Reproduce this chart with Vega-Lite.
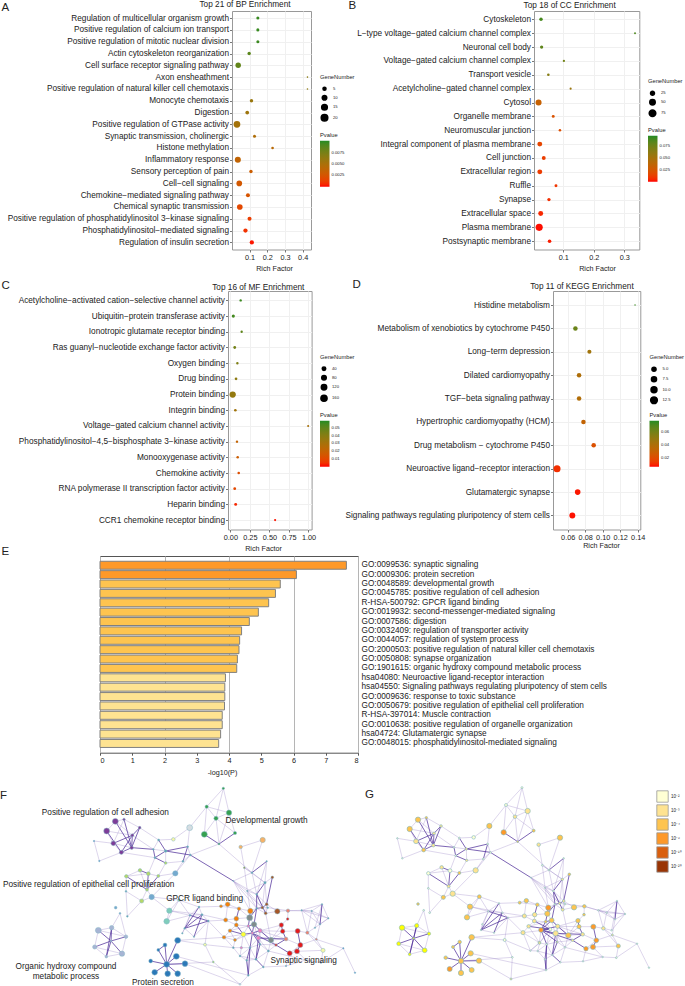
{
"$schema":"https://vega.github.io/schema/vega-lite/v6.json",
"padding":{"left":0,"top":-2,"right":0,"bottom":0},
"background":"white",
"bounds":"full","align":"none","spacing":-10,
"data":{"values":[{"a":1}]},
"resolve":{"scale":{"color":"independent","size":"independent"},"legend":{"color":"independent","size":"independent"}},
"config":{"font":"Liberation Sans","view":{"stroke":"#999","strokeWidth":1},
"axis":{"labelFontSize":8.25,"labelColor":"#222","tickColor":"#777","tickSize":2.5,"domain":false,"grid":true,"gridColor":"#f0f0f0","labelLimit":500,"titleFontWeight":"normal","titleColor":"#222","labelPadding":1},
"legend":{"titleFontSize":5.75,"titleFontWeight":"normal","titleColor":"#222","labelFontSize":4.2,"labelColor":"#222","symbolFillColor":"#000","symbolStrokeColor":"#000","symbolOpacity":1,"orient":"none","rowPadding":-2.5,"titlePadding":6.5},
"title":{"fontWeight":"normal","fontSize":8.25,"color":"#222"}},
"datasets":{
"nodes":[
{"id":"n1","fx":670,"fy":172,"fd":8,"cl":"growth","gx":531,"gy":170,"gd":7,"lv":"10⁻²"},
{"id":"n2","fx":620,"fy":227,"fd":11,"cl":"growth","gx":483,"gy":222,"gd":10,"lv":"10⁻²"},
{"id":"n3","fx":687,"fy":245,"fd":18,"cl":"growth","gx":548,"gy":240,"gd":18,"lv":"10⁻³"},
{"id":"n4","fx":648,"fy":262,"fd":14,"cl":"growth","gx":510,"gy":257,"gd":12,"lv":"10⁻³"},
{"id":"n5","fx":613,"fy":310,"fd":20,"cl":"growth","gx":476,"gy":304,"gd":18,"lv":"10⁻⁶"},
{"id":"n6","fx":705,"fy":306,"fd":11,"cl":"growth","gx":566,"gy":299,"gd":10,"lv":"10⁻⁴"},
{"id":"n7","fx":657,"fy":339,"fd":6,"cl":"growth","gx":518,"gy":332,"gd":6,"lv":"10⁻⁴"},
{"id":"n8","fx":569,"fy":290,"fd":20,"cl":"palegrey","gx":433,"gy":285,"gd":18,"lv":"10⁻⁴"},
{"id":"n9","fx":520,"fy":325,"fd":12,"cl":"paleyellow","gx":386,"gy":319,"gd":12,"lv":"10⁻²"},
{"id":"n10","fx":788,"fy":327,"fd":18,"cl":"apricot","gx":645,"gy":320,"gd":18,"lv":"10⁻⁴"},
{"id":"n11","fx":722,"fy":348,"fd":12,"cl":"apricot","gx":581,"gy":341,"gd":12,"lv":"10⁻³"},
{"id":"n12","fx":733,"fy":410,"fd":6,"cl":"olive","gx":592,"gy":403,"gd":6,"lv":"10⁻²"},
{"id":"n13","fx":800,"fy":391,"fd":5,"cl":"mesh","gx":656,"gy":382,"gd":5,"lv":"10⁻²"},
{"id":"n14","fx":756,"fy":425,"fd":6,"cl":"mesh","gx":612,"gy":417,"gd":6,"lv":"10⁻²"},
{"id":"n15","fx":817,"fy":439,"fd":9,"cl":"brown","gx":673,"gy":430,"gd":9,"lv":"10⁻⁴"},
{"id":"n16","fx":795,"fy":455,"fd":8,"cl":"mesh","gx":652,"gy":445,"gd":8,"lv":"10⁻³"},
{"id":"n17","fx":700,"fy":450,"fd":4,"cl":"mesh","gx":558,"gy":440,"gd":4,"lv":"10⁻²"},
{"id":"p1","fx":346,"fy":271,"fd":20,"cl":"adhesion","gx":219,"gy":266,"gd":18,"lv":"10⁻⁴"},
{"id":"p2","fx":372,"fy":265,"fd":8,"cl":"adhesion","gx":244,"gy":260,"gd":8,"lv":"10⁻⁴"},
{"id":"p3","fx":320,"fy":300,"fd":20,"cl":"adhesion","gx":194,"gy":294,"gd":18,"lv":"10⁻⁴"},
{"id":"p4","fx":419,"fy":290,"fd":9,"cl":"adhesion","gx":288,"gy":285,"gd":9,"lv":"10⁻³"},
{"id":"p5","fx":397,"fy":313,"fd":10,"cl":"adhesion","gx":267,"gy":307,"gd":9,"lv":"10⁻³"},
{"id":"p6","fx":340,"fy":337,"fd":16,"cl":"adhesion","gx":213,"gy":331,"gd":16,"lv":"10⁻³"},
{"id":"p7","fx":395,"fy":350,"fd":12,"cl":"adhesion","gx":265,"gy":343,"gd":11,"lv":"10⁻³"},
{"id":"p8","fx":364,"fy":364,"fd":14,"cl":"adhesion","gx":236,"gy":357,"gd":13,"lv":"10⁻⁴"},
{"id":"p9","fx":282,"fy":330,"fd":5,"cl":"smallblue","gx":157,"gy":322,"gd":5,"lv":"10⁻²"},
{"id":"p10","fx":298,"fy":390,"fd":5,"cl":"smallblue","gx":172,"gy":382,"gd":5,"lv":"10⁻²"},
{"id":"m1","fx":476,"fy":327,"fd":7,"cl":"mesh","gx":343,"gy":321,"gd":6,"lv":"10⁻²"},
{"id":"m2","fx":460,"fy":355,"fd":6,"cl":"mesh","gx":327,"gy":349,"gd":6,"lv":"10⁻²"},
{"id":"m3","fx":497,"fy":360,"fd":9,"cl":"mesh","gx":364,"gy":354,"gd":8,"lv":"10⁻³"},
{"id":"m4","fx":465,"fy":380,"fd":7,"cl":"mesh","gx":332,"gy":374,"gd":6,"lv":"10⁻²"},
{"id":"m5","fx":497,"fy":396,"fd":9,"cl":"lightgreen","gx":365,"gy":388,"gd":8,"lv":"10⁻³"},
{"id":"m6","fx":563,"fy":347,"fd":6,"cl":"mesh","gx":428,"gy":339,"gd":6,"lv":"10⁻²"},
{"id":"m7","fx":571,"fy":372,"fd":6,"cl":"mesh","gx":436,"gy":364,"gd":6,"lv":"10⁻²"},
{"id":"m8","fx":549,"fy":391,"fd":7,"cl":"mesh","gx":415,"gy":384,"gd":6,"lv":"10⁻²"},
{"id":"e1","fx":420,"fy":418,"fd":12,"cl":"lightgreen","gx":290,"gy":409,"gd":12,"lv":"10⁻³"},
{"id":"e2","fx":445,"fy":428,"fd":13,"cl":"lightgreen","gx":315,"gy":419,"gd":13,"lv":"10⁻²"},
{"id":"e3","fx":379,"fy":436,"fd":12,"cl":"lightgreen","gx":250,"gy":427,"gd":12,"lv":"10⁻²"},
{"id":"e4","fx":475,"fy":435,"fd":10,"cl":"lightgreen","gx":343,"gy":426,"gd":10,"lv":"10⁻⁴"},
{"id":"e5","fx":526,"fy":427,"fd":18,"cl":"skyblue","gx":392,"gy":418,"gd":18,"lv":"10⁻³"},
{"id":"e6","fx":441,"fy":476,"fd":10,"cl":"lightgreen","gx":311,"gy":466,"gd":10,"lv":"10⁻³"},
{"id":"e7","fx":378,"fy":481,"fd":6,"cl":"mesh","gx":250,"gy":472,"gd":6,"lv":"10⁻²"},
{"id":"e8","fx":455,"fy":498,"fd":18,"cl":"skyblue","gx":323,"gy":488,"gd":18,"lv":"10⁻³"},
{"id":"e9","fx":425,"fy":510,"fd":14,"cl":"lightgreen","gx":295,"gy":499,"gd":14,"lv":"10⁻⁴"},
{"id":"e10","fx":347,"fy":530,"fd":9,"cl":"skyblue","gx":219,"gy":519,"gd":9,"lv":"10⁻⁴"},
{"id":"e11","fx":360,"fy":547,"fd":6,"cl":"skyblue","gx":236,"gy":538,"gd":6,"lv":"10⁻²"},
{"id":"e12","fx":382,"fy":556,"fd":6,"cl":"mesh","gx":254,"gy":545,"gd":6,"lv":"10⁻²"},
{"id":"t1","fx":537,"fy":507,"fd":9,"cl":"teal","gx":403,"gy":497,"gd":13,"lv":"10⁻⁴"},
{"id":"t2","fx":508,"fy":539,"fd":18,"cl":"teal","gx":375,"gy":527,"gd":18,"lv":"10⁻⁴"},
{"id":"t3","fx":500,"fy":571,"fd":19,"cl":"teal","gx":366,"gy":559,"gd":18,"lv":"10⁻⁴"},
{"id":"g1","fx":597,"fy":528,"fd":6,"cl":"mesh","gx":462,"gy":517,"gd":5,"lv":"10⁻²"},
{"id":"g2","fx":606,"fy":551,"fd":7,"cl":"mesh","gx":472,"gy":545,"gd":5,"lv":"10⁻²"},
{"id":"g3","fx":570,"fy":553,"fd":6,"cl":"mesh","gx":430,"gy":541,"gd":5,"lv":"10⁻²"},
{"id":"g4","fx":625,"fy":570,"fd":6,"cl":"mesh","gx":489,"gy":560,"gd":5,"lv":"10⁻²"},
{"id":"g5","fx":554,"fy":592,"fd":6,"cl":"mesh","gx":408,"gy":597,"gd":5,"lv":"10⁻²"},
{"id":"g6","fx":582,"fy":617,"fd":5,"cl":"mesh","gx":447,"gy":605,"gd":5,"lv":"10⁻²"},
{"id":"g7","fx":547,"fy":607,"fd":5,"cl":"mesh","gx":412,"gy":580,"gd":5,"lv":"10⁻²"},
{"id":"o1","fx":663,"fy":526,"fd":10,"cl":"orange","gx":524,"gy":515,"gd":10,"lv":"10⁻⁴"},
{"id":"o2","fx":683,"fy":520,"fd":16,"cl":"orange","gx":544,"gy":509,"gd":15,"lv":"10⁻⁴"},
{"id":"o3","fx":717,"fy":533,"fd":12,"cl":"orange","gx":577,"gy":521,"gd":12,"lv":"10⁻⁴"},
{"id":"o4","fx":751,"fy":540,"fd":18,"cl":"orange","gx":610,"gy":530,"gd":18,"lv":"10⁻⁶"},
{"id":"o5","fx":677,"fy":567,"fd":14,"cl":"orange","gx":538,"gy":555,"gd":14,"lv":"10⁻³"},
{"id":"o6","fx":709,"fy":563,"fd":16,"cl":"orange","gx":569,"gy":551,"gd":15,"lv":"10⁻³"},
{"id":"o7","fx":709,"fy":582,"fd":13,"cl":"orange","gx":568,"gy":570,"gd":13,"lv":"10⁻³"},
{"id":"o8","fx":690,"fy":599,"fd":12,"cl":"orange","gx":551,"gy":586,"gd":12,"lv":"10⁻³"},
{"id":"o9","fx":672,"fy":619,"fd":12,"cl":"orange","gx":534,"gy":605,"gd":14,"lv":"10⁻³"},
{"id":"o10","fx":705,"fy":627,"fd":10,"cl":"orange","gx":583,"gy":635,"gd":9,"lv":"10⁻³"},
{"id":"c1","fx":730,"fy":610,"fd":16,"cl":"yellow","gx":616,"gy":595,"gd":10,"lv":"10⁻²"},
{"id":"c2","fx":749,"fy":560,"fd":20,"cl":"grey","gx":607,"gy":548,"gd":18,"lv":"10⁻⁴"},
{"id":"c3","fx":762,"fy":580,"fd":18,"cl":"grey","gx":620,"gy":568,"gd":16,"lv":"10⁻⁴"},
{"id":"c4","fx":775,"fy":621,"fd":14,"cl":"pink","gx":632,"gy":607,"gd":18,"lv":"10⁻³"},
{"id":"c5","fx":780,"fy":599,"fd":14,"cl":"pink","gx":638,"gy":586,"gd":14,"lv":"10⁻³"},
{"id":"c6","fx":745,"fy":585,"fd":9,"cl":"pink","gx":602,"gy":572,"gd":9,"lv":"10⁻⁴"},
{"id":"c7","fx":757,"fy":606,"fd":9,"cl":"pink","gx":588,"gy":597,"gd":16,"lv":"10⁻⁶"},
{"id":"c8","fx":724,"fy":650,"fd":8,"cl":"pink","gx":584,"gy":636,"gd":8,"lv":"10⁻³"},
{"id":"c9","fx":813,"fy":627,"fd":18,"cl":"grey","gx":670,"gy":613,"gd":18,"lv":"10⁻⁴"},
{"id":"c10","fx":832,"fy":541,"fd":18,"cl":"brown","gx":687,"gy":529,"gd":18,"lv":"10⁻⁴"},
{"id":"c11","fx":864,"fy":539,"fd":12,"cl":"salmon","gx":718,"gy":526,"gd":12,"lv":"10⁻⁴"},
{"id":"c12","fx":800,"fy":520,"fd":10,"cl":"brown","gx":656,"gy":510,"gd":9,"lv":"10⁻³"},
{"id":"c13","fx":787,"fy":530,"fd":9,"cl":"brown","gx":644,"gy":517,"gd":8,"lv":"10⁻³"},
{"id":"c14","fx":803,"fy":530,"fd":6,"cl":"mesh","gx":660,"gy":519,"gd":6,"lv":"10⁻²"},
{"id":"c15","fx":797,"fy":547,"fd":10,"cl":"brown","gx":653,"gy":536,"gd":10,"lv":"10⁻³"},
{"id":"c16","fx":770,"fy":532,"fd":6,"cl":"mesh","gx":630,"gy":520,"gd":6,"lv":"10⁻²"},
{"id":"c17","fx":770,"fy":490,"fd":6,"cl":"mesh","gx":625,"gy":480,"gd":6,"lv":"10⁻²"},
{"id":"c18","fx":742,"fy":480,"fd":5,"cl":"mesh","gx":600,"gy":470,"gd":5,"lv":"10⁻²"},
{"id":"r1","fx":844,"fy":582,"fd":15,"cl":"red","gx":699,"gy":569,"gd":15,"lv":"10⁻⁴"},
{"id":"r2","fx":863,"fy":564,"fd":9,"cl":"red","gx":717,"gy":551,"gd":9,"lv":"10⁻⁴"},
{"id":"r3","fx":848,"fy":601,"fd":15,"cl":"red","gx":702,"gy":587,"gd":14,"lv":"10⁻⁴"},
{"id":"r4","fx":893,"fy":600,"fd":17,"cl":"red","gx":745,"gy":587,"gd":17,"lv":"10⁻⁶"},
{"id":"r5","fx":858,"fy":624,"fd":13,"cl":"salmon","gx":713,"gy":610,"gd":12,"lv":"10⁻³"},
{"id":"r6","fx":922,"fy":605,"fd":11,"cl":"salmon","gx":775,"gy":592,"gd":12,"lv":"10⁻³"},
{"id":"r7","fx":901,"fy":642,"fd":17,"cl":"red","gx":754,"gy":628,"gd":16,"lv":"10⁻⁶"},
{"id":"r8","fx":891,"fy":661,"fd":17,"cl":"red","gx":744,"gy":648,"gd":17,"lv":"10⁻⁶"},
{"id":"r9","fx":869,"fy":667,"fd":17,"cl":"red","gx":723,"gy":653,"gd":15,"lv":"10⁻⁶"},
{"id":"r10","fx":828,"fy":642,"fd":8,"cl":"red","gx":683,"gy":628,"gd":8,"lv":"10⁻³"},
{"id":"r11","fx":949,"fy":625,"fd":7,"cl":"salmon","gx":802,"gy":612,"gd":7,"lv":"10⁻³"},
{"id":"r12","fx":969,"fy":658,"fd":14,"cl":"paleyellow","gx":820,"gy":645,"gd":14,"lv":"10⁻⁴"},
{"id":"a1","fx":966,"fy":520,"fd":5,"cl":"mesh","gx":816,"gy":510,"gd":5,"lv":"10⁻²"},
{"id":"a2","fx":985,"fy":562,"fd":5,"cl":"mesh","gx":840,"gy":549,"gd":5,"lv":"10⁻²"},
{"id":"a3","fx":905,"fy":538,"fd":5,"cl":"mesh","gx":760,"gy":538,"gd":5,"lv":"10⁻²"},
{"id":"a4","fx":935,"fy":540,"fd":5,"cl":"mesh","gx":785,"gy":545,"gd":5,"lv":"10⁻²"},
{"id":"a5","fx":960,"fy":580,"fd":5,"cl":"mesh","gx":810,"gy":565,"gd":5,"lv":"10⁻²"},
{"id":"a6","fx":945,"fy":590,"fd":5,"cl":"mesh","gx":800,"gy":598,"gd":5,"lv":"10⁻²"},
{"id":"x1","fx":1030,"fy":652,"fd":5,"cl":"smallblue","gx":876,"gy":638,"gd":5,"lv":"10⁻²"},
{"id":"x2","fx":1065,"fy":725,"fd":5,"cl":"smallblue","gx":912,"gy":710,"gd":5,"lv":"10⁻²"},
{"id":"x3","fx":963,"fy":695,"fd":5,"cl":"smallblue","gx":814,"gy":680,"gd":6,"lv":"10⁻²"},
{"id":"x4","fx":917,"fy":687,"fd":5,"cl":"mesh","gx":773,"gy":678,"gd":5,"lv":"10⁻²"},
{"id":"x5","fx":858,"fy":705,"fd":5,"cl":"mesh","gx":714,"gy":691,"gd":5,"lv":"10⁻²"},
{"id":"y1","fx":295,"fy":598,"fd":20,"cl":"lavender","gx":171,"gy":590,"gd":18,"lv":"yellow"},
{"id":"y2","fx":335,"fy":590,"fd":15,"cl":"lavender","gx":215,"gy":584,"gd":14,"lv":"yellow"},
{"id":"y3","fx":378,"fy":617,"fd":12,"cl":"lavender","gx":252,"gy":608,"gd":11,"lv":"yellow"},
{"id":"y4","fx":333,"fy":630,"fd":6,"cl":"lavender","gx":206,"gy":622,"gd":6,"lv":"yellow"},
{"id":"y5","fx":284,"fy":648,"fd":14,"cl":"lavender","gx":161,"gy":638,"gd":13,"lv":"yellow"},
{"id":"y6","fx":366,"fy":668,"fd":18,"cl":"lavender","gx":239,"gy":658,"gd":16,"lv":"yellow"},
{"id":"y7","fx":319,"fy":677,"fd":9,"cl":"lavender","gx":194,"gy":670,"gd":9,"lv":"yellow"},
{"id":"b1","fx":533,"fy":628,"fd":20,"cl":"blue","gx":380,"gy":619,"gd":19,"lv":"10⁻⁴"},
{"id":"b2","fx":495,"fy":642,"fd":13,"cl":"blue","gx":344,"gy":633,"gd":12,"lv":"10⁻⁴"},
{"id":"b3","fx":475,"fy":657,"fd":10,"cl":"blue","gx":324,"gy":648,"gd":10,"lv":"10⁻⁴"},
{"id":"b4","fx":529,"fy":676,"fd":20,"cl":"blue","gx":377,"gy":667,"gd":18,"lv":"10⁻⁴"},
{"id":"b5","fx":452,"fy":690,"fd":13,"cl":"blue","gx":302,"gy":680,"gd":12,"lv":"10⁻⁴"},
{"id":"b6","fx":555,"fy":698,"fd":19,"cl":"blue","gx":402,"gy":689,"gd":18,"lv":"10⁻⁴"},
{"id":"b7","fx":500,"fy":700,"fd":20,"cl":"blue","gx":348,"gy":690,"gd":18,"lv":"10⁻⁴"},
{"id":"b8","fx":464,"fy":724,"fd":19,"cl":"blue","gx":314,"gy":714,"gd":17,"lv":"10⁻⁶"},
{"id":"b9","fx":503,"fy":728,"fd":19,"cl":"blue","gx":348,"gy":726,"gd":18,"lv":"10⁻⁴"},
{"id":"b10","fx":533,"fy":728,"fd":19,"cl":"blue","gx":380,"gy":717,"gd":17,"lv":"10⁻⁴"},
{"id":"q1","fx":615,"fy":641,"fd":10,"cl":"paleyellow","gx":479,"gy":627,"gd":10,"lv":"10⁻²"},
{"id":"q2","fx":640,"fy":693,"fd":6,"cl":"lightgreen","gx":502,"gy":679,"gd":6,"lv":"10⁻²"},
{"id":"q3","fx":720,"fy":760,"fd":6,"cl":"palegrey","gx":498,"gy":744,"gd":7,"lv":"10⁻³"},
{"id":"q4","fx":745,"fy":733,"fd":6,"cl":"mesh","gx":603,"gy":717,"gd":6,"lv":"10⁻²"},
{"id":"q5","fx":790,"fy":708,"fd":6,"cl":"mesh","gx":646,"gy":694,"gd":5,"lv":"10⁻²"},
{"id":"q6","fx":740,"fy":688,"fd":6,"cl":"mesh","gx":600,"gy":685,"gd":5,"lv":"10⁻²"},
{"id":"q7","fx":700,"fy":650,"fd":6,"cl":"mesh","gx":556,"gy":659,"gd":5,"lv":"10⁻²"},
{"id":"q8","fx":768,"fy":685,"fd":7,"cl":"mesh","gx":622,"gy":672,"gd":5,"lv":"10⁻²"},
{"id":"q9","fx":805,"fy":660,"fd":7,"cl":"mesh","gx":660,"gy":649,"gd":6,"lv":"10⁻²"},
{"id":"q10","fx":780,"fy":640,"fd":6,"cl":"mesh","gx":637,"gy":633,"gd":6,"lv":"10⁻³"},
{"id":"q11","fx":750,"fy":650,"fd":6,"cl":"mesh","gx":605,"gy":640,"gd":6,"lv":"10⁻²"},
{"id":"q12","fx":720,"fy":675,"fd":6,"cl":"mesh","gx":578,"gy":660,"gd":5,"lv":"10⁻²"}
],
"edgeList":[
{"s":"n1","t":"n2","k":"w"},{"s":"n1","t":"n3","k":"w"},{"s":"n1","t":"n4","k":"w"},{"s":"n2","t":"n4","k":"w"},{"s":"n2","t":"n3","k":"w"},{"s":"n3","t":"n4","k":"w"},{"s":"n4","t":"n6","k":"w"},{"s":"n4","t":"n5","k":"w"},{"s":"n3","t":"n6","k":"w"},{"s":"n2","t":"n5","k":"w"},{"s":"n4","t":"n7","k":"w"},{"s":"n3","t":"n7","k":"w"},{"s":"n8","t":"n9","k":"w"},{"s":"n8","t":"m6","k":"w"},{"s":"n9","t":"m1","k":"w"},{"s":"n7","t":"m7","k":"w"},{"s":"n2","t":"n8","k":"w"},{"s":"n10","t":"n11","k":"w"},{"s":"n11","t":"n12","k":"w"},{"s":"n10","t":"n14","k":"w"},{"s":"n12","t":"n14","k":"w"},{"s":"n12","t":"n16","k":"w"},{"s":"n7","t":"n14","k":"w"},
{"s":"m1","t":"m2","k":"w"},{"s":"m2","t":"m3","k":"w"},{"s":"m3","t":"m5","k":"w"},{"s":"m6","t":"m7","k":"w"},{"s":"m7","t":"m8","k":"w"},{"s":"m8","t":"m5","k":"w"},{"s":"m1","t":"p4","k":"w"},{"s":"p5","t":"m2","k":"w"},{"s":"p8","t":"m4","k":"w"},{"s":"m4","t":"e2","k":"w"},{"s":"m5","t":"e4","k":"w"},
{"s":"p1","t":"p3","k":"w"},{"s":"p1","t":"p2","k":"w"},{"s":"p2","t":"p4","k":"w"},{"s":"p9","t":"p10","k":"w"},{"s":"p9","t":"p6","k":"w"},{"s":"p10","t":"p8","k":"w"},{"s":"p3","t":"p6","k":"w"},{"s":"p6","t":"p8","k":"w"},{"s":"p6","t":"p7","k":"w"},{"s":"p1","t":"p5","k":"w"},{"s":"p3","t":"p5","k":"w"},{"s":"p2","t":"p6","k":"w"},
{"s":"e1","t":"e3","k":"w"},{"s":"e2","t":"e4","k":"w"},{"s":"e1","t":"e6","k":"w"},{"s":"e3","t":"e7","k":"w"},{"s":"e6","t":"e8","k":"w"},{"s":"e7","t":"e9","k":"w"},{"s":"e7","t":"e12","k":"w"},{"s":"e9","t":"e12","k":"w"},{"s":"e8","t":"e9","k":"w"},{"s":"e4","t":"e5","k":"w"},{"s":"e5","t":"e8","k":"w"},{"s":"e3","t":"e2","k":"w"},{"s":"e9","t":"e6","k":"w"},{"s":"e5","t":"m7","k":"w"},{"s":"e5","t":"m8","k":"w"},
{"s":"t1","t":"t2","k":"w"},{"s":"t1","t":"t3","k":"w"},{"s":"t2","t":"t3","k":"w"},{"s":"e8","t":"t1","k":"w"},{"s":"e8","t":"t2","k":"w"},{"s":"t1","t":"g1","k":"w"},{"s":"t1","t":"g3","k":"w"},{"s":"t2","t":"g3","k":"w"},{"s":"t3","t":"g3","k":"w"},{"s":"t2","t":"g2","k":"w"},
{"s":"g1","t":"g2","k":"w"},{"s":"g1","t":"g3","k":"w"},{"s":"g2","t":"g3","k":"w"},{"s":"g2","t":"g4","k":"w"},{"s":"g3","t":"g5","k":"w"},{"s":"g4","t":"g6","k":"w"},{"s":"g5","t":"g6","k":"w"},{"s":"g5","t":"g7","k":"w"},{"s":"g3","t":"g7","k":"w"},{"s":"g4","t":"o5","k":"w"},{"s":"g1","t":"o1","k":"w"},{"s":"g2","t":"o5","k":"w"},{"s":"g4","t":"o9","k":"w"},
{"s":"q1","t":"g4","k":"w"},{"s":"q1","t":"q2","k":"w"},{"s":"q1","t":"q7","k":"w"},{"s":"q2","t":"q3","k":"w"},{"s":"b1","t":"o9","k":"w"},{"s":"b1","t":"q1","k":"w"},{"s":"b6","t":"q3","k":"w"},{"s":"b7","t":"q2","k":"w"},{"s":"b4","t":"q4","k":"w"},{"s":"q3","t":"q4","k":"w"},{"s":"q4","t":"q5","k":"w"},{"s":"q4","t":"q6","k":"w"},{"s":"q5","t":"q9","k":"w"},{"s":"q6","t":"q8","k":"w"},{"s":"q7","t":"q12","k":"w"},{"s":"q12","t":"q6","k":"w"},{"s":"q11","t":"q12","k":"w"},{"s":"q8","t":"q9","k":"w"},{"s":"q9","t":"q10","k":"w"},{"s":"q10","t":"q11","k":"w"},{"s":"q9","t":"c4","k":"w"},{"s":"q11","t":"c1","k":"w"},{"s":"q12","t":"c8","k":"w"},{"s":"q7","t":"c8","k":"w"},{"s":"q8","t":"q11","k":"w"},{"s":"q12","t":"q8","k":"w"},{"s":"q10","t":"c4","k":"w"},
{"s":"r12","t":"r6","k":"w"},{"s":"r11","t":"r12","k":"w"},{"s":"r11","t":"x1","k":"w"},{"s":"x1","t":"x2","k":"w"},{"s":"x1","t":"x3","k":"w"},{"s":"x3","t":"r12","k":"w"},{"s":"x4","t":"r8","k":"w"},{"s":"x4","t":"x5","k":"w"},{"s":"x3","t":"x4","k":"w"},{"s":"x5","t":"r9","k":"w"},{"s":"x5","t":"q5","k":"w"},{"s":"x4","t":"q9","k":"w"},
{"s":"a1","t":"a2","k":"w"},{"s":"a1","t":"a3","k":"w"},{"s":"a1","t":"a4","k":"w"},{"s":"a1","t":"a5","k":"w"},{"s":"a2","t":"a3","k":"w"},{"s":"a2","t":"a4","k":"w"},{"s":"a2","t":"a5","k":"w"},{"s":"a3","t":"a4","k":"w"},{"s":"a3","t":"a5","k":"w"},{"s":"a4","t":"a5","k":"w"},{"s":"a6","t":"a1","k":"w"},{"s":"a6","t":"a2","k":"w"},{"s":"a3","t":"c11","k":"w"},{"s":"a5","t":"r11","k":"w"},{"s":"a6","t":"r6","k":"w"},{"s":"a3","t":"r6","k":"w"},{"s":"c11","t":"a4","k":"w"},{"s":"r6","t":"a4","k":"w"},{"s":"c10","t":"c11","k":"w"},{"s":"c11","t":"r2","k":"w"},
{"s":"n13","t":"n16","k":"w"},{"s":"n14","t":"n17","k":"w"},{"s":"n17","t":"c17","k":"w"},{"s":"n17","t":"c18","k":"w"},{"s":"n16","t":"c18","k":"w"},{"s":"n14","t":"c17","k":"w"},{"s":"n15","t":"n16","k":"w"},{"s":"c17","t":"c18","k":"w"},{"s":"c18","t":"c16","k":"w"},{"s":"c17","t":"c12","k":"w"},{"s":"c18","t":"c13","k":"w"},{"s":"n17","t":"c13","k":"w"},{"s":"c12","t":"c15","k":"w"},{"s":"c14","t":"c15","k":"w"},{"s":"c10","t":"c15","k":"w"},{"s":"c10","t":"c12","k":"w"},{"s":"c11","t":"c14","k":"w"},{"s":"n17","t":"o4","k":"w"},{"s":"n12","t":"c18","k":"w"},
{"s":"o1","t":"o2","k":"w"},{"s":"o1","t":"o3","k":"w"},{"s":"o2","t":"o3","k":"w"},{"s":"o2","t":"o5","k":"w"},{"s":"o3","t":"o4","k":"w"},{"s":"o5","t":"o6","k":"w"},{"s":"o5","t":"o7","k":"w"},{"s":"o6","t":"o7","k":"w"},{"s":"o7","t":"o8","k":"w"},{"s":"o8","t":"o9","k":"w"},{"s":"o9","t":"o10","k":"w"},{"s":"o8","t":"o10","k":"w"},{"s":"o6","t":"c2","k":"w"},{"s":"o4","t":"c16","k":"w"},{"s":"o7","t":"c6","k":"w"},
{"s":"c1","t":"o9","k":"w"},{"s":"c1","t":"o10","k":"w"},{"s":"c1","t":"c6","k":"w"},{"s":"c1","t":"c8","k":"w"},{"s":"c2","t":"c3","k":"w"},{"s":"c4","t":"c5","k":"w"},{"s":"c4","t":"c9","k":"w"},{"s":"c9","t":"c15","k":"w"},{"s":"c9","t":"r1","k":"w"},{"s":"c9","t":"r5","k":"w"},{"s":"c9","t":"r10","k":"w"},{"s":"c5","t":"r3","k":"w"},{"s":"c5","t":"r1","k":"w"},
{"s":"c2","t":"o3","k":"w"},{"s":"c3","t":"q10","k":"w"},{"s":"c4","t":"q11","k":"w"},{"s":"c5","t":"q10","k":"w"},{"s":"c6","t":"o8","k":"w"},{"s":"c7","t":"o10","k":"w"},{"s":"c8","t":"q11","k":"w"},{"s":"o10","t":"q7","k":"w"},{"s":"o9","t":"q7","k":"w"},{"s":"c16","t":"c15","k":"w"},{"s":"c14","t":"c13","k":"w"},{"s":"c12","t":"c14","k":"w"},{"s":"c17","t":"c13","k":"w"},{"s":"n16","t":"c12","k":"w"},{"s":"n16","t":"c13","k":"w"},{"s":"r10","t":"q9","k":"w"},{"s":"r10","t":"q10","k":"w"},{"s":"c9","t":"q9","k":"w"},{"s":"c5","t":"r5","k":"w"},{"s":"r3","t":"c9","k":"w"},{"s":"c3","t":"c9","k":"w"},{"s":"c18","t":"o4","k":"w"},{"s":"n17","t":"c16","k":"w"},{"s":"n14","t":"n16","k":"w"},{"s":"n13","t":"c17","k":"w"},
{"s":"r1","t":"r2","k":"w"},{"s":"r3","t":"r4","k":"w"},{"s":"r4","t":"r6","k":"w"},{"s":"r5","t":"r7","k":"w"},{"s":"r7","t":"r9","k":"w"},{"s":"r8","t":"r9","k":"w"},{"s":"r7","t":"r11","k":"w"},{"s":"r6","t":"r11","k":"w"},{"s":"r8","t":"r12","k":"w"},
{"s":"y1","t":"y2","k":"w"},{"s":"y2","t":"y3","k":"w"},{"s":"y1","t":"y5","k":"w"},{"s":"y5","t":"y7","k":"w"},{"s":"y6","t":"y7","k":"w"},{"s":"y3","t":"y6","k":"w"},{"s":"y1","t":"y3","k":"w"},{"s":"y5","t":"y6","k":"w"},{"s":"e11","t":"y2","k":"w"},{"s":"e11","t":"y3","k":"w"},
{"s":"n6","t":"n7","k":"s"},{"s":"n5","t":"n7","k":"s"},{"s":"p4","t":"p5","k":"s"},{"s":"p4","t":"p7","k":"s"},{"s":"p5","t":"p7","k":"s"},{"s":"p5","t":"p8","k":"s"},{"s":"p2","t":"p7","k":"s"},{"s":"p1","t":"p7","k":"s"},{"s":"p3","t":"p8","k":"s"},{"s":"p6","t":"p5","k":"s"},{"s":"p7","t":"m2","k":"s"},{"s":"p8","t":"p7","k":"s"},{"s":"m1","t":"m3","k":"s"},{"s":"m3","t":"m4","k":"s"},{"s":"m3","t":"m6","k":"s"},{"s":"m4","t":"m5","k":"s"},{"s":"m2","t":"m4","k":"s"},{"s":"m3","t":"m7","k":"s"},{"s":"m6","t":"m8","k":"s"},{"s":"e2","t":"e6","k":"s"},{"s":"e3","t":"e6","k":"s"},{"s":"e4","t":"e6","k":"s"},{"s":"e1","t":"e2","k":"s"},{"s":"g2","t":"g5","k":"s"},{"s":"g4","t":"g5","k":"s"},{"s":"g1","t":"g5","k":"s"},{"s":"g2","t":"g6","k":"s"},{"s":"g3","t":"g4","k":"s"},
{"s":"b7","t":"b1","k":"s"},{"s":"b7","t":"b2","k":"s"},{"s":"b7","t":"b3","k":"s"},{"s":"b7","t":"b4","k":"s"},{"s":"b7","t":"b5","k":"s"},{"s":"b7","t":"b6","k":"s"},{"s":"b7","t":"b8","k":"s"},{"s":"b7","t":"b9","k":"s"},{"s":"b7","t":"b10","k":"s"},{"s":"b2","t":"b3","k":"s"},{"s":"y1","t":"y4","k":"s"},{"s":"y2","t":"y4","k":"s"},{"s":"y3","t":"y4","k":"s"},{"s":"y5","t":"y4","k":"s"},{"s":"y6","t":"y4","k":"s"},{"s":"y7","t":"y4","k":"s"},{"s":"y2","t":"y7","k":"s"},
{"s":"c1","t":"c7","k":"s"},{"s":"c7","t":"c4","k":"s"},{"s":"c7","t":"c5","k":"s"},{"s":"c1","t":"o8","k":"s"},{"s":"c1","t":"o7","k":"s"},{"s":"c7","t":"q10","k":"s"},{"s":"c7","t":"q11","k":"s"},{"s":"q11","t":"q6","k":"s"},{"s":"q10","t":"q8","k":"s"},{"s":"q8","t":"q5","k":"s"},{"s":"q6","t":"q4","k":"s"},{"s":"q4","t":"q11","k":"s"},{"s":"c7","t":"c3","k":"s"},{"s":"c3","t":"c16","k":"s"},{"s":"c16","t":"c13","k":"s"},{"s":"c13","t":"c12","k":"s"},{"s":"c16","t":"c17","k":"s"},{"s":"c17","t":"c15","k":"s"},{"s":"n15","t":"c12","k":"s"},{"s":"n16","t":"c17","k":"s"},{"s":"c16","t":"c2","k":"s"},{"s":"c4","t":"q8","k":"s"},{"s":"c7","t":"r10","k":"s"},{"s":"c5","t":"c9","k":"s"},{"s":"r1","t":"r3","k":"s"},{"s":"r3","t":"r5","k":"s"},{"s":"r5","t":"r10","k":"s"},{"s":"r4","t":"r7","k":"s"},{"s":"r7","t":"r8","k":"s"},{"s":"r9","t":"r10","k":"s"},{"s":"c4","t":"r5","k":"s"},{"s":"c7","t":"c6","k":"s"},{"s":"c6","t":"c2","k":"s"},{"s":"c3","t":"c6","k":"s"},{"s":"c3","t":"c5","k":"s"},{"s":"o4","t":"c2","k":"s"},{"s":"o3","t":"o6","k":"s"},{"s":"n13","t":"n14","k":"s"},{"s":"m7","t":"n17","k":"s"},{"s":"a1","t":"a5","k":"s"}
],
"annotations":[
{"label":"Positive regulation of cell adhesion","lx":316,"ly":246},
{"label":"Developmental growth","lx":800,"ly":271},
{"label":"Positive regulation of epithelial cell proliferation","lx":266,"ly":463},
{"label":"GPCR ligand binding","lx":614,"ly":505},
{"label":"Organic hydroxy compound\nmetabolic process","lx":198,"ly":709},
{"label":"Protein secretion","lx":489,"ly":755},
{"label":"Synaptic signaling","lx":911,"ly":690}
]
},
"vconcat":[
{"hconcat":[
{"width":232,"height":238.5,"view":{"stroke":null,"fill":"transparent"},"mark":{"type":"point","opacity":0},"encoding":{}},
{"width":79,"height":238.5,
"title":{"text":"Top 21 of BP Enrichment","dx":-26.5,"offset":-7.25},
"data":{"values":[
{"term":"Regulation of multicellular organism growth","rf":0.147,"gene":5,"p":0.0097},
{"term":"Positive regulation of calcium ion transport","rf":0.147,"gene":5,"p":0.0097},
{"term":"Positive regulation of mitotic nuclear division","rf":0.147,"gene":5,"p":0.0096},
{"term":"Actin cytoskeleton reorganization","rf":0.098,"gene":6,"p":0.0087},
{"term":"Cell surface receptor signaling pathway","rf":0.036,"gene":14,"p":0.0084},
{"term":"Axon ensheathment","rf":0.427,"gene":2,"p":0.0066},
{"term":"Positive regulation of natural killer cell chemotaxis","rf":0.427,"gene":2,"p":0.0064},
{"term":"Monocyte chemotaxis","rf":0.111,"gene":6,"p":0.0059},
{"term":"Digestion","rf":0.087,"gene":7,"p":0.0056},
{"term":"Positive regulation of GTPase activity","rf":0.029,"gene":21,"p":0.0053},
{"term":"Synaptic transmission, cholinergic","rf":0.128,"gene":5,"p":0.0047},
{"term":"Histone methylation","rf":0.23,"gene":4,"p":0.0042},
{"term":"Inflammatory response","rf":0.034,"gene":17,"p":0.0037},
{"term":"Sensory perception of pain","rf":0.108,"gene":6,"p":0.0031},
{"term":"Cell−cell signaling","rf":0.042,"gene":15,"p":0.0027},
{"term":"Chemokine−mediated signaling pathway","rf":0.091,"gene":8,"p":0.0024},
{"term":"Chemical synaptic transmission","rf":0.045,"gene":15,"p":0.0017},
{"term":"Positive regulation of phosphatidylinositol 3−kinase signaling","rf":0.1,"gene":8,"p":0.0012},
{"term":"Phosphatidylinositol−mediated signaling","rf":0.077,"gene":9,"p":0.0008},
{"term":"Regulation of insulin secretion","rf":0.113,"gene":9,"p":0.0002}
]},
"mark":{"type":"circle","opacity":1},
"encoding":{
"x":{"field":"rf","type":"quantitative","scale":{"domain":[0.001,0.447],"nice":false,"zero":false},"axis":{"values":[0.1,0.2,0.3,0.4],"format":".1f","title":"Rich Factor","titleFontSize":7.2,"titleX":42,"titleY":15,"labelFontSize":7.3}},
"y":{"field":"term","type":"nominal","sort":null,"scale":{"type":"point","padding":0.6},"axis":{"title":"A","titleAngle":0,"titleX":-231,"titleY":-4,"titleAlign":"left","titleBaseline":"middle","titleFontSize":11.5}},
"size":{"field":"gene","type":"quantitative","scale":{"domain":[2,22],"range":[2.5,48]},"legend":{"title":"GeneNumber","values":[5,10,15,20],"format":"d","legendX":88,"legendY":63}},
"color":{"field":"p","type":"quantitative","scale":{"domain":[0,0.0101],"range":["#ff0000","#228b22"],"interpolate":"lab"},"legend":{"title":"Pvalue","values":[0.0025,0.005,0.0075],"format":".4f","gradientLength":46,"gradientThickness":9.5,"titlePadding":3,"legendX":88,"legendY":121}}
}},
{"width":223,"height":238.5,"view":{"stroke":null},"mark":{"type":"point","opacity":0},"encoding":{}},
{"width":105.3,"height":238.5,
"title":{"text":"Top 18 of CC Enrichment","dx":-17,"offset":-10},
"data":{"values":[
{"term":"Cytoskeleton","rf":0.027,"gene":18,"p":0.09},
{"term":"L−type voltage−gated calcium channel complex","rf":0.335,"gene":3,"p":0.088},
{"term":"Neuronal cell body","rf":0.029,"gene":16,"p":0.082},
{"term":"Voltage−gated calcium channel complex","rf":0.102,"gene":6,"p":0.075},
{"term":"Transport vesicle","rf":0.051,"gene":9,"p":0.066},
{"term":"Acetylcholine−gated channel complex","rf":0.124,"gene":5,"p":0.056},
{"term":"Cytosol","rf":0.019,"gene":62,"p":0.033},
{"term":"Organelle membrane","rf":0.067,"gene":12,"p":0.022},
{"term":"Neuromuscular junction","rf":0.089,"gene":8,"p":0.02},
{"term":"Integral component of plasma membrane","rf":0.023,"gene":40,"p":0.015},
{"term":"Cell junction","rf":0.036,"gene":24,"p":0.012},
{"term":"Extracellular region","rf":0.023,"gene":40,"p":0.011},
{"term":"Ruffle","rf":0.076,"gene":12,"p":0.009},
{"term":"Synapse","rf":0.053,"gene":16,"p":0.007},
{"term":"Extracellular space","rf":0.026,"gene":40,"p":0.005},
{"term":"Plasma membrane","rf":0.021,"gene":88,"p":0.001},
{"term":"Postsynaptic membrane","rf":0.055,"gene":20,"p":0.003}
]},
"mark":{"type":"circle","opacity":1},
"encoding":{
"x":{"field":"rf","type":"quantitative","scale":{"domain":[0.004,0.349],"nice":false,"zero":false},"axis":{"values":[0.1,0.2,0.3],"format":".1f","title":"Rich Factor","titleFontSize":7.2,"titleX":63,"titleY":15,"labelFontSize":7.3}},
"y":{"field":"term","type":"nominal","sort":null,"scale":{"type":"point","padding":0.6},"axis":{"title":"B","titleAngle":0,"titleX":-186,"titleY":-6,"titleAlign":"left","titleBaseline":"middle","titleFontSize":11.5}},
"size":{"field":"gene","type":"quantitative","scale":{"domain":[2,90],"range":[3,52]},"legend":{"title":"GeneNumber","values":[25,50,75],"format":"d","legendX":114,"legendY":67}},
"color":{"field":"p","type":"quantitative","scale":{"domain":[0,0.0975],"range":["#ff0000","#228b22"],"interpolate":"lab"},"legend":{"title":"Pvalue","values":[0.025,0.05,0.075],"format":".3f","gradientLength":46,"gradientThickness":9.5,"titlePadding":3,"legendX":114,"legendY":116}}
}}
],"bounds":"flush","align":"none","spacing":0,"resolve":{"scale":{"color":"independent","size":"independent"},"legend":{"color":"independent","size":"independent"}}},
{"width":685,"height":23.25,"view":{"stroke":null,"fill":"transparent"},"mark":{"type":"point","opacity":0},"encoding":{}},
{"hconcat":[
{"width":227.7,"height":238.5,"view":{"stroke":null,"fill":"transparent"},"mark":{"type":"point","opacity":0},"encoding":{}},
{"width":83.6,"height":238.5,
"title":{"text":"Top 16 of MF Enrichment","dx":-11.5,"offset":-11.75},
"data":{"values":[
{"term":"Acetylcholine−activated cation−selective channel activity","rf":0.132,"gene":10,"p":0.056},
{"term":"Ubiquitin−protein transferase activity","rf":0.038,"gene":30,"p":0.055},
{"term":"Ionotropic glutamate receptor binding","rf":0.145,"gene":9,"p":0.05},
{"term":"Ras guanyl−nucleotide exchange factor activity","rf":0.056,"gene":20,"p":0.045},
{"term":"Oxygen binding","rf":0.09,"gene":12,"p":0.042},
{"term":"Drug binding","rf":0.073,"gene":16,"p":0.038},
{"term":"Protein binding","rf":0.03,"gene":165,"p":0.036},
{"term":"Integrin binding","rf":0.064,"gene":16,"p":0.032},
{"term":"Voltage−gated calcium channel activity","rf":0.996,"gene":3,"p":0.03},
{"term":"Phosphatidylinositol−4,5−bisphosphate 3−kinase activity","rf":0.085,"gene":12,"p":0.021},
{"term":"Monooxygenase activity","rf":0.094,"gene":14,"p":0.018},
{"term":"Chemokine activity","rf":0.107,"gene":14,"p":0.012},
{"term":"RNA polymerase II transcription factor activity","rf":0.056,"gene":20,"p":0.01},
{"term":"Heparin binding","rf":0.068,"gene":22,"p":0.003},
{"term":"CCR1 chemokine receptor binding","rf":0.573,"gene":5,"p":0.001}
]},
"mark":{"type":"circle","opacity":1},
"encoding":{
"x":{"field":"rf","type":"quantitative","scale":{"domain":[-0.03,1.04],"nice":false,"zero":false},"axis":{"values":[0,0.25,0.5,0.75,1],"format":".2f","title":"Rich Factor","titleFontSize":7.2,"titleX":35,"titleY":15,"labelFontSize":7.3}},
"y":{"field":"term","type":"nominal","sort":null,"scale":{"type":"point","padding":0.6},"axis":{"title":"C","titleAngle":0,"titleX":-227,"titleY":-6,"titleAlign":"left","titleBaseline":"middle","titleFontSize":11.5}},
"size":{"field":"gene","type":"quantitative","scale":{"domain":[2,170],"range":[4,40]},"legend":{"title":"GeneNumber","values":[40,80,120,160],"format":"d","legendX":92,"legendY":63}},
"color":{"field":"p","type":"quantitative","scale":{"domain":[0,0.059],"range":["#ff0000","#228b22"],"interpolate":"lab"},"legend":{"title":"Pvalue","values":[0.01,0.02,0.03,0.04,0.05],"format":".2f","gradientLength":46,"gradientThickness":9.5,"titlePadding":3,"legendX":92,"legendY":121}}
}},
{"width":240.7,"height":238.5,"view":{"stroke":null},"mark":{"type":"point","opacity":0},"encoding":{}},
{"width":87.3,"height":238.5,
"title":{"text":"Top 11 of KEGG Enrichment","dx":-14.7,"offset":-11.75},
"data":{"values":[
{"term":"Histidine metabolism","rf":0.137,"gene":1,"p":0.074},
{"term":"Metabolism of xenobiotics by cytochrome P450","rf":0.0688,"gene":6,"p":0.063},
{"term":"Long−term depression","rf":0.0848,"gene":5,"p":0.045},
{"term":"Dilated cardiomyopathy","rf":0.073,"gene":6,"p":0.04},
{"term":"TGF−beta signaling pathway","rf":0.073,"gene":6,"p":0.039},
{"term":"Hypertrophic cardiomyopathy (HCM)","rf":0.078,"gene":6,"p":0.032},
{"term":"Drug metabolism − cytochrome P450","rf":0.0897,"gene":6,"p":0.022},
{"term":"Neuroactive ligand−receptor interaction","rf":0.0478,"gene":14,"p":0.012},
{"term":"Glutamatergic synapse","rf":0.0714,"gene":9,"p":0.0085},
{"term":"Signaling pathways regulating pluripotency of stem cells","rf":0.0653,"gene":10,"p":0.008}
]},
"mark":{"type":"circle","opacity":1},
"encoding":{
"x":{"field":"rf","type":"quantitative","scale":{"domain":[0.0432,0.143],"nice":false,"zero":false},"axis":{"values":[0.06,0.08,0.1,0.12,0.14],"format":".2f","title":"Rich Factor","titleFontSize":7.2,"titleX":48,"titleY":12,"labelFontSize":7.3}},
"y":{"field":"term","type":"nominal","sort":null,"scale":{"type":"point","padding":0.6},"axis":{"title":"D","titleAngle":0,"titleX":-201,"titleY":-7,"titleAlign":"left","titleBaseline":"middle","titleFontSize":11.5}},
"size":{"field":"gene","type":"quantitative","scale":{"domain":[1,14],"range":[2,50]},"legend":{"title":"GeneNumber","values":[5,7.5,10,12.5],"format":".1f","legendX":96.5,"legendY":63}},
"color":{"field":"p","type":"quantitative","scale":{"domain":[0.007,0.077],"range":["#ff0000","#228b22"],"interpolate":"lab"},"legend":{"title":"Pvalue","values":[0.02,0.04,0.06],"format":".2f","gradientLength":46,"gradientThickness":9.5,"titlePadding":3,"legendX":96.5,"legendY":121}}
}}
],"bounds":"flush","align":"none","spacing":0,"resolve":{"scale":{"color":"independent","size":"independent"},"legend":{"color":"independent","size":"independent"}}},
{"width":685,"height":12,"view":{"stroke":null,"fill":"transparent"},"mark":{"type":"point","opacity":0},"encoding":{}},
{"hconcat":[
{"width":100,"height":196.7,"view":{"stroke":null,"fill":"transparent"},"mark":{"type":"point","opacity":0},"encoding":{}},
{"width":258,"height":196.7,
"view":{"stroke":"#555","strokeWidth":1},
"title":{"text":"E","anchor":"start","dx":-98,"offset":-1.5,"fontSize":11.5},
"data":{"values":[
{"term":"GO:0099536: synaptic signaling","v":7.64,"level":"a"},
{"term":"GO:0009306: protein secretion","v":6.09,"level":"a"},
{"term":"GO:0048589: developmental growth","v":5.59,"level":"b"},
{"term":"GO:0045785: positive regulation of cell adhesion","v":5.44,"level":"b"},
{"term":"R-HSA-500792: GPCR ligand binding","v":5.23,"level":"b"},
{"term":"GO:0019932: second-messenger-mediated signaling","v":4.91,"level":"b"},
{"term":"GO:0007586: digestion","v":4.63,"level":"b"},
{"term":"GO:0032409: regulation of transporter activity","v":4.39,"level":"b"},
{"term":"GO:0044057: regulation of system process","v":4.33,"level":"b"},
{"term":"GO:2000503: positive regulation of natural killer cell chemotaxis","v":4.31,"level":"b"},
{"term":"GO:0050808: synapse organization","v":4.26,"level":"b"},
{"term":"GO:1901615: organic hydroxy compound metabolic process","v":4.24,"level":"b"},
{"term":"hsa04080: Neuroactive ligand-receptor interaction","v":3.89,"level":"c"},
{"term":"hsa04550: Signaling pathways regulating pluripotency of stem cells","v":3.87,"level":"c"},
{"term":"GO:0009636: response to toxic substance","v":3.87,"level":"c"},
{"term":"GO:0050679: positive regulation of epithelial cell proliferation","v":3.86,"level":"c"},
{"term":"R-HSA-397014: Muscle contraction","v":3.79,"level":"c"},
{"term":"GO:0010638: positive regulation of organelle organization","v":3.79,"level":"c"},
{"term":"hsa04724: Glutamatergic synapse","v":3.74,"level":"c"},
{"term":"GO:0048015: phosphatidylinositol-mediated signaling","v":3.68,"level":"c"}
]},
"mark":{"type":"bar","stroke":"#808080","strokeWidth":1},
"encoding":{
"x":{"field":"v","type":"quantitative","scale":{"domain":[0,8],"nice":false},"axis":{"values":[0,1,2,3,4,5,6,7,8],"title":"-log10(P)","titleFontSize":7.2,"titleX":122,"titleY":16,"labelFontSize":7.3,"grid":true,"gridColor":"#b5b5b5","gridOpacity":{"condition":{"test":"datum.value % 2 === 0","value":1},"value":0},"tickColor":"#555"}},
"y":{"field":"term","type":"nominal","sort":null,"scale":{"paddingInner":0.15,"paddingOuter":0.56},"axis":{"orient":"right","title":null,"ticks":false,"grid":false,"labelPadding":3,"labelFontSize":8.25}},
"color":{"field":"level","type":"nominal","scale":{"domain":["a","b","c"],"range":["#fe9929","#fec44f","#fee391"]},"legend":null}
}}
],"bounds":"flush","align":"none","spacing":0,"resolve":{"scale":{"color":"independent","size":"independent"},"legend":{"color":"independent","size":"independent"}}},
{"width":685,"height":24,"view":{"stroke":null,"fill":"transparent"},"mark":{"type":"point","opacity":0},"encoding":{}},
{"hconcat":[
{"width":345,"height":206,"view":{"stroke":null,"fill":"transparent"},
"title":{"text":"F","anchor":"start","dx":0,"dy":24,"fontSize":11.5},
"layer":[
{"data":{"name":"edgeList"},"transform":[{"filter":"datum.k=='w'"},{"lookup":"s","from":{"data":{"name":"nodes"},"key":"id","fields":["fx","fy"]},"as":["x1","y1"]},{"lookup":"t","from":{"data":{"name":"nodes"},"key":"id","fields":["fx","fy"]},"as":["x2","y2"]}],
"mark":{"type":"rule","color":"#9f8cc9","opacity":0.6,"strokeWidth":0.6},
"encoding":{"x":{"field":"x1","type":"quantitative","scale":{"domain":[0,1035],"nice":false},"axis":null},"y":{"field":"y1","type":"quantitative","scale":{"domain":[768,150],"nice":false},"axis":null},"x2":{"field":"x2"},"y2":{"field":"y2"}}},
{"data":{"name":"edgeList"},"transform":[{"filter":"datum.k=='s'"},{"lookup":"s","from":{"data":{"name":"nodes"},"key":"id","fields":["fx","fy"]},"as":["x1","y1"]},{"lookup":"t","from":{"data":{"name":"nodes"},"key":"id","fields":["fx","fy"]},"as":["x2","y2"]}],
"mark":{"type":"rule","color":"#54349c","opacity":0.85,"strokeWidth":0.9},
"encoding":{"x":{"field":"x1","type":"quantitative","scale":{"domain":[0,1035],"nice":false},"axis":null},"y":{"field":"y1","type":"quantitative","scale":{"domain":[768,150],"nice":false},"axis":null},"x2":{"field":"x2"},"y2":{"field":"y2"}}},
{"data":{"name":"nodes"},
"mark":{"type":"circle","opacity":1,"stroke":"#86b6c4","strokeWidth":0.5},
"encoding":{"x":{"field":"fx","type":"quantitative","scale":{"domain":[0,1035],"nice":false},"axis":null},"y":{"field":"fy","type":"quantitative","scale":{"domain":[768,150],"nice":false},"axis":null},
"size":{"field":"fd","type":"quantitative","scale":{"type":"pow","exponent":2,"domain":[0,24],"range":[0,50]},"legend":null},
"color":{"field":"cl","type":"nominal","legend":null,"scale":{"domain":["growth","adhesion","mesh","lightgreen","skyblue","teal","orange","red","salmon","pink","grey","brown","yellow","lavender","blue","palegrey","paleyellow","apricot","smallblue","olive"],"range":["#35a150","#7d3c98","#5aa5b5","#b5d868","#74a9cf","#7fcdbb","#f57f0a","#e41a1c","#f08070","#ef7fbf","#808c8c","#a65628","#ffff33","#a6b4d4","#2b78b8","#d5dde2","#f7f7a8","#f7b267","#4a90c8","#9a9a3a"]}}}},
{"data":{"name":"annotations"},
"mark":{"type":"text","font":"Liberation Sans","fontSize":8.25,"color":"#222","lineBreak":"\n","lineHeight":9.3,"align":"center","baseline":"middle"},
"encoding":{"x":{"field":"lx","type":"quantitative","scale":{"domain":[0,1035],"nice":false},"axis":null},"y":{"field":"ly","type":"quantitative","scale":{"domain":[768,150],"nice":false},"axis":null},"text":{"field":"label"}}}
]},
{"width":340,"height":206,"view":{"stroke":null},
"title":{"text":"G","anchor":"start","dx":20,"dy":23,"fontSize":11.5},
"layer":[
{"data":{"name":"edgeList"},"transform":[{"filter":"datum.k=='w'"},{"lookup":"s","from":{"data":{"name":"nodes"},"key":"id","fields":["gx","gy"]},"as":["x1","y1"]},{"lookup":"t","from":{"data":{"name":"nodes"},"key":"id","fields":["gx","gy"]},"as":["x2","y2"]}],
"mark":{"type":"rule","color":"#9f8cc9","opacity":0.6,"strokeWidth":0.6},
"encoding":{"x":{"field":"x1","type":"quantitative","scale":{"domain":[0,1020],"nice":false},"axis":null},"y":{"field":"y1","type":"quantitative","scale":{"domain":[768,150],"nice":false},"axis":null},"x2":{"field":"x2"},"y2":{"field":"y2"}}},
{"data":{"name":"edgeList"},"transform":[{"filter":"datum.k=='s'"},{"lookup":"s","from":{"data":{"name":"nodes"},"key":"id","fields":["gx","gy"]},"as":["x1","y1"]},{"lookup":"t","from":{"data":{"name":"nodes"},"key":"id","fields":["gx","gy"]},"as":["x2","y2"]}],
"mark":{"type":"rule","color":"#54349c","opacity":0.85,"strokeWidth":0.9},
"encoding":{"x":{"field":"x1","type":"quantitative","scale":{"domain":[0,1020],"nice":false},"axis":null},"y":{"field":"y1","type":"quantitative","scale":{"domain":[768,150],"nice":false},"axis":null},"x2":{"field":"x2"},"y2":{"field":"y2"}}},
{"data":{"name":"nodes"},
"mark":{"type":"circle","opacity":1,"stroke":"#7fb8c0","strokeWidth":0.6},
"encoding":{"x":{"field":"gx","type":"quantitative","scale":{"domain":[0,1020],"nice":false},"axis":null},"y":{"field":"gy","type":"quantitative","scale":{"domain":[768,150],"nice":false},"axis":null},
"size":{"field":"gd","type":"quantitative","scale":{"type":"pow","exponent":2,"domain":[0,24],"range":[0,50]},"legend":null},
"color":{"field":"lv","type":"nominal","scale":{"domain":["10⁻²","10⁻³","10⁻⁴","10⁻⁶","10⁻¹⁰","10⁻²⁰","yellow"],"range":["#ffffd4","#fee391","#fec44f","#fe9929","#d95f0e","#993404","#ffff00"]},
"legend":{"title":null,"values":["10⁻²","10⁻³","10⁻⁴","10⁻⁶","10⁻¹⁰","10⁻²⁰"],"symbolType":"square","symbolSize":130,"symbolStrokeColor":"#999","symbolStrokeWidth":0.8,"symbolFillColor":null,"rowPadding":-7,"labelFontSize":4.5,"labelOffset":2,"legendX":311,"legendY":9}}}}
]}
],"bounds":"flush","align":"none","spacing":0,"resolve":{"scale":{"color":"independent","size":"independent"},"legend":{"color":"independent","size":"independent"}}}
]
}
